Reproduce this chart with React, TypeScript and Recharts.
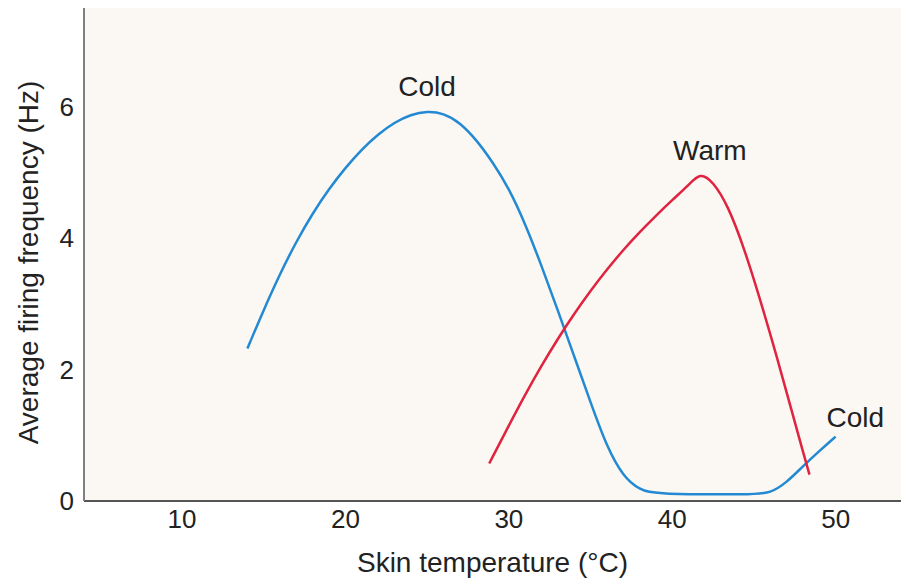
import { LineChart, Line, XAxis, YAxis, CartesianGrid, ReferenceDot } from 'recharts';

// Cold receptor curve: skin temperature (°C) vs firing rate (Hz)
const coldTemp = [14, 15, 16, 17, 18, 19, 20, 21, 22, 23, 24, 25, 26, 27, 28, 29, 30, 31, 32, 33, 34, 35, 36, 37, 38, 39, 45, 46, 47, 48, 49, 50];
const coldRate = [2.32, 2.91, 3.46, 3.95, 4.38, 4.75, 5.07, 5.35, 5.58, 5.76, 5.88, 5.93, 5.9, 5.76, 5.5, 5.16, 4.76, 4.22, 3.58, 2.9, 2.2, 1.5, 0.82, 0.37, 0.17, 0.1, 0.1, 0.12, 0.28, 0.53, 0.76, 0.98];

// Warm receptor curve
const warmTemp = [28.8, 30, 31, 32, 33, 34, 35, 36, 37, 38, 39, 40, 41, 41.7, 42.5, 43.4, 44.4, 45.4, 46.4, 47.3, 48.0, 48.4];
const warmRate = [0.57, 1.15, 1.62, 2.06, 2.47, 2.85, 3.2, 3.52, 3.82, 4.09, 4.34, 4.58, 4.8, 5.0, 4.86, 4.5, 3.85, 3.05, 2.2, 1.38, 0.75, 0.4];

const xTicks = [10, 20, 30, 40, 50];
const yTicks = [0, 2, 4, 6];

// curve labels: [text, temp, rate]
const curveLabels: [string, number, number][] = [
  ['Cold', 25.0, 6.31],
  ['Warm', 42.3, 5.34],
  ['Cold', 51.2, 1.28],
];

const coldData = coldTemp.map((t, i) => ({ t, rate: coldRate[i] }));
const warmData = warmTemp.map((t, i) => ({ t, rate: warmRate[i] }));

const FONT = '"Liberation Sans", Arial, sans-serif';

export default function App() {
  return (
    <div style={{ position: 'fixed', top: 0, left: 0, width: 901, height: 582, background: '#fff', fontFamily: FONT }}>
      <LineChart width={901} height={582} margin={{ top: 8, right: 0, bottom: 0, left: 0 }}>
        <CartesianGrid horizontal={false} vertical={false} fill="#fbf8f3" />
        <XAxis
          type="number"
          dataKey="t"
          domain={[4, 54]}
          ticks={xTicks}
          allowDataOverflow
          height={81}
          tickLine={false}
          axisLine={{ stroke: '#555', strokeWidth: 2 }}
          tick={{ fill: '#222', fontSize: 26, fontFamily: FONT }}
          tickMargin={3}
          label={{ value: 'Skin temperature (°C)', position: 'insideBottom', offset: 10, fill: '#222', fontSize: 28, fontFamily: FONT }}
        />
        <YAxis
          type="number"
          domain={[0, 7.5]}
          ticks={yTicks}
          allowDataOverflow
          width={84}
          tickLine={false}
          axisLine={{ stroke: '#808080', strokeWidth: 2 }}
          tick={{ fill: '#222', fontSize: 26, fontFamily: FONT }}
          tickMargin={4}
          label={{ value: 'Average firing frequency (Hz)', angle: -90, position: 'insideLeft', offset: 28, dy: 8, fill: '#222', fontSize: 28, fontFamily: FONT, style: { textAnchor: 'middle' } }}
        />
        <Line data={coldData} dataKey="rate" type="basis" stroke="#2389d3" strokeWidth={2.5} dot={false} isAnimationActive={false} />
        <Line data={warmData} dataKey="rate" type="basis" stroke="#e0233f" strokeWidth={2.5} dot={false} isAnimationActive={false} />
        {curveLabels.map(([text, t, r], i) => (
          <ReferenceDot
            key={i}
            x={t}
            y={r}
            r={0}
            fill="none"
            stroke="none"
            label={{ value: text, position: 'center', fill: '#222', fontSize: 28, fontFamily: FONT }}
          />
        ))}
      </LineChart>
    </div>
  );
}
